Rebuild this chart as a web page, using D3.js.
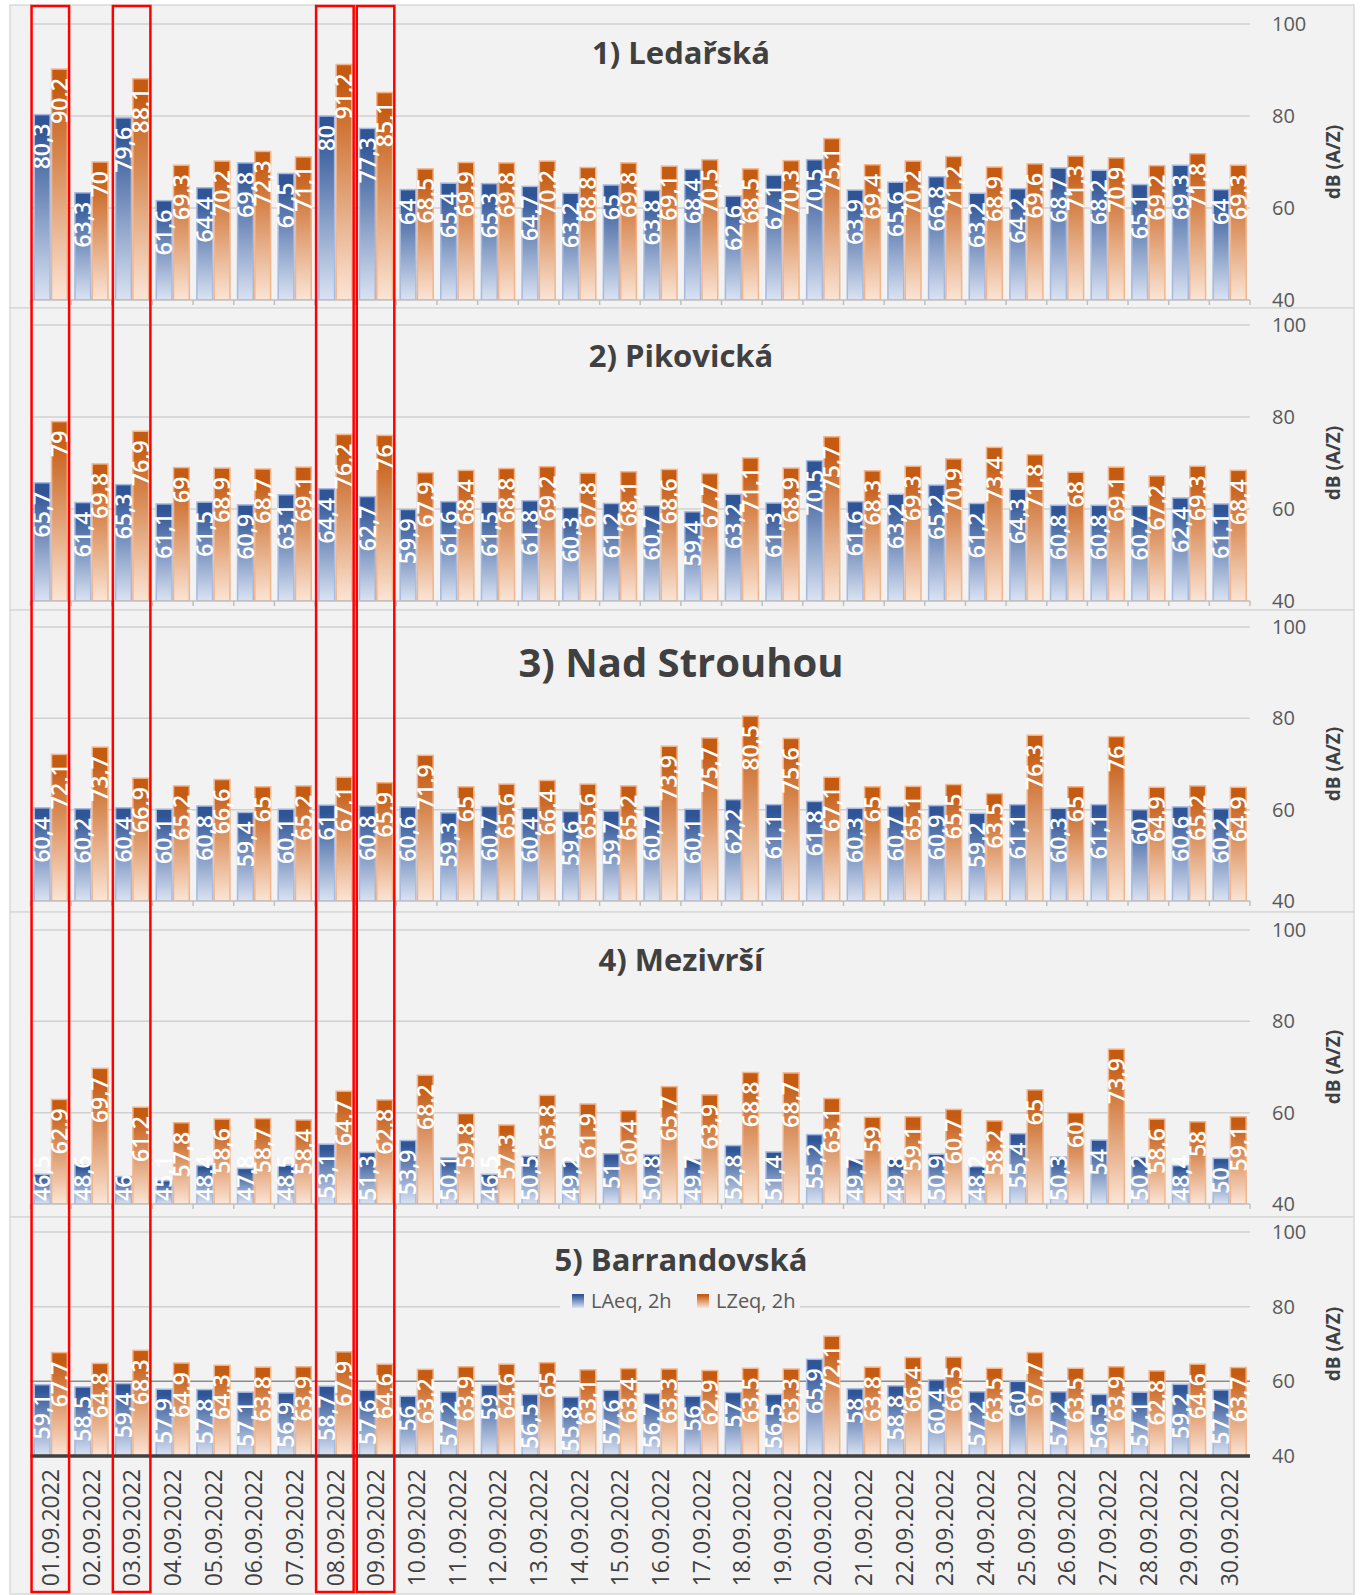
<!DOCTYPE html>
<html>
<head>
<meta charset="utf-8">
<script src="https://cdnjs.cloudflare.com/ajax/libs/d3/7.8.5/d3.min.js"></script>
<style>
body{margin:0;background:#fff;}
text{font-family:"Open Sans",sans-serif;}
</style>
</head>
<body>
<div id="chart"></div>
<script>
// days on the x axis
const dates = ["01.09.2022","02.09.2022","03.09.2022","04.09.2022","05.09.2022","06.09.2022","07.09.2022","08.09.2022","09.09.2022","10.09.2022",
  "11.09.2022","12.09.2022","13.09.2022","14.09.2022","15.09.2022","16.09.2022","17.09.2022","18.09.2022","19.09.2022","20.09.2022",
  "21.09.2022","22.09.2022","23.09.2022","24.09.2022","25.09.2022","26.09.2022","27.09.2022","28.09.2022","29.09.2022","30.09.2022"];

const titles = ["1) Ledařská","2) Pikovická","3) Nad Strouhou","4) Mezivrší","5) Barrandovská"];
const seriesNames = ["LAeq, 2h","LZeq, 2h"];
const yTicks = [40,60,80,100];
const highlighted = ["01.09.2022","03.09.2022","08.09.2022","09.09.2022"];

const laeqLedarska = [80.3,63.3,79.6,61.6,64.4,69.8,67.5,80,77.3,64,65.4,65.3,64.7,63.2,65,63.8,68.4,62.6,67.1,70.5,63.9,65.6,66.8,63.2,64.2,68.7,68.2,65.1,69.3,64];
const lzeqLedarska = [90.2,70,88.1,69.3,70.2,72.3,71.1,91.2,85.1,68.5,69.9,69.8,70.2,68.8,69.8,69.1,70.5,68.5,70.3,75.1,69.4,70.2,71.2,68.9,69.6,71.3,70.9,69.2,71.8,69.3];

const laeqPikovicka = [65.7,61.4,65.3,61.1,61.5,60.9,63.1,64.4,62.7,59.9,61.6,61.5,61.8,60.3,61.2,60.7,59.4,63.2,61.3,70.5,61.6,63.2,65.2,61.2,64.3,60.8,60.8,60.7,62.4,61.1];
const lzeqPikovicka = [79,69.8,76.9,69,68.9,68.7,69.1,76.2,76,67.9,68.4,68.8,69.2,67.8,68.1,68.6,67.7,71.1,68.9,75.7,68.3,69.3,70.9,73.4,71.8,68,69.1,67.2,69.3,68.4];

const laeqNadStrouhou = [60.4,60.2,60.4,60.1,60.8,59.4,60.1,61,60.8,60.6,59.3,60.7,60.4,59.6,59.7,60.7,60.1,62.2,61.1,61.8,60.3,60.7,60.9,59.2,61.1,60.3,61.1,60,60.6,60.2];
const lzeqNadStrouhou = [72.1,73.7,66.9,65.2,66.6,65,65.2,67.1,65.9,71.9,65,65.6,66.4,65.6,65.2,73.9,75.7,80.5,75.6,67.1,65,65.1,65.5,63.5,76.3,65,76,64.9,65.2,64.9];

const laeqMezivrsi = [46.5,48.6,46,45.1,48.4,47.8,48.5,53.1,51.3,53.9,50.1,46.5,50.5,49.2,51,50.8,49.7,52.8,51.4,55.2,49.7,49.8,50.9,48.2,55.4,50.3,54,50.2,48.4,50];
const lzeqMezivrsi = [62.9,69.7,61.2,57.8,58.6,58.7,58.4,64.7,62.8,68.2,59.8,57.3,63.8,61.9,60.4,65.7,63.9,68.8,68.7,63.1,59,59.1,60.7,58.2,65,60,73.9,58.6,58,59.1];

const laeqBarrandovska = [59.1,58.5,59.4,57.9,57.8,57.1,56.9,58.7,57.6,56,57.2,59,56.5,55.8,57.6,56.7,56,57,56.5,65.9,58,58.8,60.4,57.2,60,57.2,56.5,57.1,59.2,57.7];
const lzeqBarrandovska = [67.7,64.8,68.3,64.9,64.3,63.8,63.9,67.9,64.6,63.2,63.9,64.6,65,63.1,63.4,63.3,62.9,63.5,63.3,72.1,63.8,66.4,66.5,63.5,67.7,63.5,63.9,62.8,64.6,63.7];

const laeq = [laeqLedarska,laeqPikovicka,laeqNadStrouhou,laeqMezivrsi,laeqBarrandovska];
const lzeq = [lzeqLedarska,lzeqPikovicka,lzeqNadStrouhou,lzeqMezivrsi,lzeqBarrandovska];

// panel geometry
const W = 1362, H = 1595;
const panels = [
  {top:5,    bottom:308,  plotTop:24,   plotBottom:300,  titleY:53,   titleSize:31},
  {top:308,  bottom:610,  plotTop:325,  plotBottom:601,  titleY:356,  titleSize:31},
  {top:610,  bottom:912,  plotTop:627,  plotBottom:901,  titleY:663,  titleSize:40},
  {top:912,  bottom:1217, plotTop:930,  plotBottom:1204, titleY:960,  titleSize:31},
  {top:1217, bottom:1594, plotTop:1232, plotBottom:1456, titleY:1260, titleSize:31}
];
const plotLeft = 30.5, plotRight = 1250;
const titleX = 681;
const labelPad = 9;

const svg = d3.select("#chart").append("svg")
  .attr("width", W).attr("height", H);

const defs = svg.append("defs");
function grad(id, dark, light){
  const g = defs.append("linearGradient").attr("id", id)
    .attr("x1",0).attr("y1",0).attr("x2",0).attr("y2",1);
  g.append("stop").attr("offset","0").attr("stop-color",dark);
  g.append("stop").attr("offset","0.08").attr("stop-color",dark);
  g.append("stop").attr("offset","1").attr("stop-color",light);
}
grad("gBlue","#2f5597","#dae3f3");
grad("gOrange","#c55a11","#fbe5d6");
const fills = ["url(#gBlue)","url(#gOrange)"];
const strokes = ["#a7b9df","#f2b58c"];

const x = d3.scaleBand().domain(dates).range([plotLeft, plotRight])
  .paddingInner(0.15).paddingOuter(0.075);
const xSub = d3.scaleBand().domain([0,1]).range([0, x.bandwidth()]);

panels.forEach((p, i) => {
  const y = d3.scaleLinear().domain([40,100]).range([p.plotBottom, p.plotTop]);
  const g = svg.append("g");

  g.append("rect")
    .attr("x",10).attr("y",p.top).attr("width",1344).attr("height",p.bottom-p.top)
    .attr("fill","#f2f2f2").attr("stroke","#d9d9d9").attr("stroke-width",1.5);

  // gridlines
  g.append("g").selectAll("line").data(yTicks.slice(1)).enter().append("line")
    .attr("x1",plotLeft).attr("x2",plotRight)
    .attr("y1",d=>y(d)).attr("y2",d=>y(d))
    .attr("stroke", d => (i===4 && d===60) ? "#8c8c8c" : "#d0d0d0")
    .attr("stroke-width",1.5);

  // title
  g.append("text")
    .attr("x",titleX).attr("y",p.titleY)
    .attr("dy","0.36em").attr("text-anchor","middle")
    .attr("font-size",p.titleSize).attr("font-weight","bold")
    .attr("fill","#404040").text(titles[i]);

  // legend only on last panel
  if (i === 4) {
    const lg = g.append("g");
    lg.append("rect").attr("x",560).attr("y",1288).attr("width",240).attr("height",26).attr("fill","#f2f2f2");
    [0,1].forEach(s => {
      const lx = [572,697][s];
      lg.append("rect").attr("x",lx).attr("y",1294).attr("width",12).attr("height",14)
        .attr("fill",fills[s]);
      lg.append("text").attr("x",lx+19).attr("y",1301).attr("dy","0.36em")
        .attr("font-size",20).attr("fill","#595959").text(seriesNames[s]);
    });
  }

  // right y axis
  const yAxis = g.append("g")
    .attr("transform",`translate(${plotRight},0)`)
    .call(d3.axisRight(y).tickValues(yTicks).tickSize(0).tickPadding(22));
  yAxis.select(".domain").remove();
  yAxis.selectAll("text")
    .style("font-family","'Open Sans',sans-serif")
    .attr("font-size",20).attr("fill","#595959");

  g.append("text")
    .attr("transform",`translate(1333,${(p.plotTop+p.plotBottom)/2}) rotate(-90)`)
    .attr("text-anchor","middle").attr("dy","0.36em")
    .attr("font-size",19).attr("font-weight","bold").attr("fill","#404040")
    .text("dB (A/Z)");

  // clip for the plot area
  const clipId = "clip"+i;
  defs.append("clipPath").attr("id",clipId).append("rect")
    .attr("x",0).attr("y",p.plotTop).attr("width",W).attr("height",p.plotBottom-p.plotTop);

  const rows = dates.map((d,k) => ({date:d, vals:[laeq[i][k], lzeq[i][k]]}));

  const groups = g.append("g").attr("clip-path",`url(#${clipId})`)
    .selectAll("g").data(rows).enter().append("g")
    .attr("transform", d => `translate(${x(d.date)},0)`);

  groups.selectAll("rect").data(d => d.vals.map((v,s)=>({v,s}))).enter().append("rect")
    .attr("x", d => xSub(d.s)+0.75)
    .attr("width", xSub.bandwidth()-1.5)
    .attr("y", d => y(d.v))
    .attr("height", d => y(40) - y(d.v))
    .attr("fill", d => fills[d.s])
    .attr("stroke", d => strokes[d.s]).attr("stroke-width",1.5);

  groups.selectAll("text").data(d => d.vals.map((v,s)=>({v,s}))).enter().append("text")
    .attr("text-anchor","end").attr("dy","0.36em")
    .attr("font-size",23).attr("font-weight",600).attr("fill","#fff")
    .text(d => String(d.v).replace(".",","))
    .each(function(d){
      const len = this.getComputedTextLength();
      let top = y(d.v) + labelPad;
      if (top + len > p.plotBottom - 3) top = p.plotBottom - 3 - len;
      d3.select(this).attr("transform",
        `translate(${xSub(d.s)+xSub.bandwidth()/2},${top}) rotate(-90)`);
    });

  // category axis
  if (i < 4) {
    g.append("line").attr("x1",plotLeft).attr("x2",plotRight)
      .attr("y1",p.plotBottom).attr("y2",p.plotBottom)
      .attr("stroke","#bfbfbf").attr("stroke-width",1.5);
    g.append("g").selectAll("line").data(dates.concat([null])).enter().append("line")
      .attr("x1", (d,k) => plotLeft + k*x.step()).attr("x2",(d,k) => plotLeft + k*x.step())
      .attr("y1",p.plotBottom).attr("y2",p.plotBottom+5)
      .attr("stroke","#bfbfbf").attr("stroke-width",1.5);
  } else {
    g.append("line").attr("x1",plotLeft).attr("x2",plotRight)
      .attr("y1",p.plotBottom).attr("y2",p.plotBottom)
      .attr("stroke","#404040").attr("stroke-width",3.5);
    const xAxis = g.append("g")
      .attr("transform",`translate(0,${p.plotBottom})`)
      .call(d3.axisBottom(x).tickSize(0).tickPadding(0));
    xAxis.select(".domain").remove();
    xAxis.selectAll("text")
      .style("font-family","'Open Sans',sans-serif")
      .attr("font-size",23).attr("fill","#404040")
      .attr("transform","rotate(-90)")
      .attr("text-anchor","end")
      .attr("x",-13).attr("y",0).attr("dy","0.36em");
  }
});

// red highlight boxes
svg.append("g").selectAll("rect").data(highlighted).enter().append("rect")
  .attr("x", d => x(d)-2)
  .attr("width", x.bandwidth()+3)
  .attr("y",6).attr("height",1586)
  .attr("fill","none").attr("stroke","#ff0000").attr("stroke-width",2.5);
</script>
</body>
</html>
